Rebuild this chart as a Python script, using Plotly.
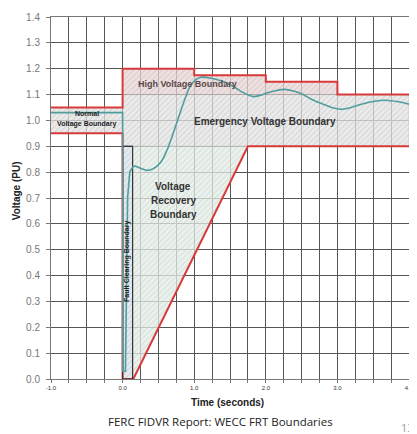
import plotly.graph_objects as go

# ---- data ----
trace_t = [-1.0, 0.0, 0.0, 0.04, 0.07, 0.10, 0.16, 0.25, 0.34, 0.42, 0.48, 0.55, 0.62, 0.70, 0.78,
           0.86, 0.94, 1.02, 1.10, 1.20, 1.35, 1.50, 1.62, 1.74, 1.83, 1.92, 2.05, 2.25, 2.40,
           2.52, 2.65, 2.80, 2.92, 3.05, 3.15, 3.30, 3.50, 3.67, 3.85, 4.0]
trace_v = [1.03, 1.03, 0.03, 0.03, 0.70, 0.80, 0.823, 0.815, 0.807, 0.812, 0.823, 0.845, 0.885,
           0.945, 1.01, 1.075, 1.13, 1.158, 1.167, 1.165, 1.155, 1.139, 1.118, 1.10, 1.092, 1.097,
           1.109, 1.12, 1.113, 1.10, 1.08, 1.063, 1.05, 1.043, 1.047, 1.06, 1.073, 1.078, 1.072,
           1.063]

hv_t = [0, 0, 1, 1, 2, 2, 3, 3, 4]
hv_v = [1.05, 1.2, 1.2, 1.175, 1.175, 1.15, 1.15, 1.1, 1.1]

normal_t = [-1, 0]
normal_hi = [1.05, 1.05]
normal_lo = [0.95, 0.95]

lv_t = [0, 0, 0.15, 1.75, 4]
lv_v = [0.95, 0, 0, 0.9, 0.9]

emerg_t = [0, 4]
emerg_v = [0.9, 1.1]

fc_t = [0, 0.14]
fc_v = [0, 0.9]

x_ticks = [-1, 0, 1, 2, 3, 4]
x_ticklabels = ["-1.0", "0.0", "1.0", "2.0", "3.0", "4.0"]
y_ticks = [0.0, 0.1, 0.2, 0.3, 0.4, 0.5, 0.6, 0.7, 0.8, 0.9, 1.0, 1.1, 1.2, 1.3, 1.4]
y_ticklabels = [f"{v:.1f}" for v in y_ticks]

RED = "#d83a3a"
TEAL = "#4f9d9d"
FONT = "Liberation Sans, Arial, sans-serif"

def pat(bg, fg):
    return dict(shape="/", bgcolor=bg, fgcolor=fg, size=4, solidity=0.25)

fig = go.Figure()

# normal region
fig.add_trace(go.Scatter(
    x=[normal_t[0], normal_t[1], normal_t[1], normal_t[0], normal_t[0]],
    y=[normal_lo[0], normal_lo[1], normal_hi[1], normal_hi[0], normal_lo[0]],
    fill="toself", mode="lines", line=dict(width=0),
    fillpattern=pat("rgba(228,228,228,0.75)", "rgba(170,170,170,0.8)"),
    hoverinfo="skip", showlegend=False))

# emergency region
fig.add_trace(go.Scatter(
    x=[emerg_t[0], emerg_t[1], emerg_t[1], emerg_t[0], emerg_t[0]],
    y=[emerg_v[0], emerg_v[0], emerg_v[1], emerg_v[1], emerg_v[0]],
    fill="toself", mode="lines", line=dict(width=0.6, color="rgba(150,150,150,0.6)"),
    fillpattern=pat("rgba(228,228,228,0.75)", "rgba(170,170,170,0.8)"),
    hoverinfo="skip", showlegend=False))

# high-voltage region
fig.add_trace(go.Scatter(
    x=hv_t[1:] + [hv_t[1]],
    y=hv_v[1:] + [hv_v[-1]],
    fill="toself", mode="lines", line=dict(width=0),
    fillpattern=pat("rgba(232,214,214,0.75)", "rgba(190,160,160,0.8)"),
    hoverinfo="skip", showlegend=False))

# voltage recovery region
fig.add_trace(go.Scatter(
    x=[fc_t[1], lv_t[2], lv_t[3], fc_t[1], fc_t[1]],
    y=[lv_v[2], lv_v[2], lv_v[3], lv_v[3], lv_v[2]],
    fill="toself", mode="lines", line=dict(width=0),
    fillpattern=pat("rgba(228,236,230,0.75)", "rgba(175,195,180,0.8)"),
    hoverinfo="skip", showlegend=False))

# fault clearing region
fig.add_trace(go.Scatter(
    x=[fc_t[0], fc_t[1], fc_t[1], fc_t[0], fc_t[0]],
    y=[fc_v[0], fc_v[0], fc_v[1], fc_v[1], fc_v[0]],
    fill="toself", mode="lines", line=dict(width=1, color="#333333"),
    fillpattern=pat("rgba(222,230,234,0.8)", "rgba(160,175,185,0.8)"),
    hoverinfo="skip", showlegend=False))

# red boundary lines
fig.add_trace(go.Scatter(x=normal_t + hv_t[1:], y=normal_hi + hv_v[1:], mode="lines",
                         line=dict(color=RED, width=2), hoverinfo="skip", showlegend=False))
fig.add_trace(go.Scatter(x=normal_t + lv_t[1:], y=normal_lo + lv_v[1:], mode="lines",
                         line=dict(color=RED, width=2), hoverinfo="skip", showlegend=False))
# fault clearing outline on top
fig.add_trace(go.Scatter(x=[fc_t[0], fc_t[0], fc_t[1], fc_t[1], fc_t[0]],
                         y=[fc_v[1], fc_v[0], fc_v[0], fc_v[1], fc_v[1]], mode="lines",
                         line=dict(color="#333333", width=1), hoverinfo="skip", showlegend=False))

# voltage trace: pre-fault / fault part (straight), recovery part (smoothed)
fig.add_trace(go.Scatter(x=trace_t[:6], y=trace_v[:6], mode="lines",
                         line=dict(color=TEAL, width=1.6), hoverinfo="skip", showlegend=False))
fig.add_trace(go.Scatter(x=trace_t[5:], y=trace_v[5:], mode="lines",
                         line=dict(color=TEAL, width=1.6, shape="spline", smoothing=0.8),
                         hoverinfo="skip", showlegend=False))

anns = [
    dict(x=-0.5, y=1.026, text="<b>Normal</b>", font=dict(size=7, color="#222")),
    dict(x=-0.5, y=0.986, text="<b>Voltage Boundary</b>", font=dict(size=7, color="#222")),
    dict(x=0.91, y=1.139, text="<b>High Voltage Boundary</b>", font=dict(size=9, color="#5a4848")),
    dict(x=1.99, y=0.997, text="<b>Emergency Voltage Boundary</b>", font=dict(size=10, color="#333")),
    dict(x=0.71, y=0.744, text="<b>Voltage</b>", font=dict(size=10, color="#333")),
    dict(x=0.71, y=0.690, text="<b>Recovery</b>", font=dict(size=10, color="#333")),
    dict(x=0.71, y=0.638, text="<b>Boundary</b>", font=dict(size=10, color="#333")),
    dict(x=0.07, y=0.455, text="<b>Fault Clearing Boundary</b>", textangle=-90,
         font=dict(size=7, color="#222")),
]
for a in anns:
    a["font"]["family"] = FONT
    fig.add_annotation(xref="x", yref="y", showarrow=False, xanchor="center",
                       yanchor="middle", **a)

fig.add_annotation(xref="paper", yref="paper", x=0.4925, y=-0.0656, showarrow=False,
                   xanchor="center", yanchor="middle",
                   text="<b>Time (seconds)</b>",
                   font=dict(size=10, color="#222", family=FONT))
fig.add_annotation(xref="paper", yref="paper", x=-0.0964, y=0.52, showarrow=False,
                   xanchor="center", yanchor="middle",
                   text="<b>Voltage (PU)</b>", textangle=-90,
                   font=dict(size=10, color="#222", family=FONT))
fig.add_annotation(xref="paper", yref="paper", x=0.473, y=-0.1175, showarrow=False,
                   xanchor="center", yanchor="middle",
                   text="FERC FIDVR Report: WECC FRT Boundaries",
                   font=dict(size=11.5, color="#222", family="Open Sans, Noto Sans, sans-serif"))
fig.add_annotation(xref="paper", yref="paper", x=0.972, y=-0.134, xanchor="left", yanchor="middle",
                   showarrow=False, text="13",
                   font=dict(size=11, color="#999", family="Open Sans, sans-serif"))

# page body has an 8px default margin, so the figure is sized/offset to compensate
fig.update_layout(
    width=409, height=426,
    margin=dict(l=43, r=3, t=5, b=55),
    paper_bgcolor="white", plot_bgcolor="white",
    xaxis=dict(range=[-1, 4], tickvals=x_ticks, ticktext=x_ticklabels,
               tickfont=dict(size=6, color="#333", family=FONT),
               ticklabeloverflow="allow",
               showgrid=True, gridcolor="#555", gridwidth=1,
               minor=dict(dtick=0.25, showgrid=True, gridcolor="#555", gridwidth=1,
                          ticks="outside", ticklen=3, tickcolor="#777"),
               ticks="outside", ticklen=3, tickcolor="#777",
               showline=True, linecolor="#777", linewidth=1, mirror=True,
               zeroline=False, fixedrange=True),
    yaxis=dict(range=[0, 1.4], tickvals=y_ticks, ticktext=y_ticklabels,
               tickfont=dict(size=10, color="#777", family=FONT),
               ticklabeloverflow="allow", ticklabelstandoff=4,
               showgrid=True, gridcolor="#555", gridwidth=1,
               ticks="outside", ticklen=4, tickcolor="#777",
               showline=True, linecolor="#777", linewidth=1, mirror=True,
               zeroline=False, fixedrange=True),
)

fig.write_html("out.html")
